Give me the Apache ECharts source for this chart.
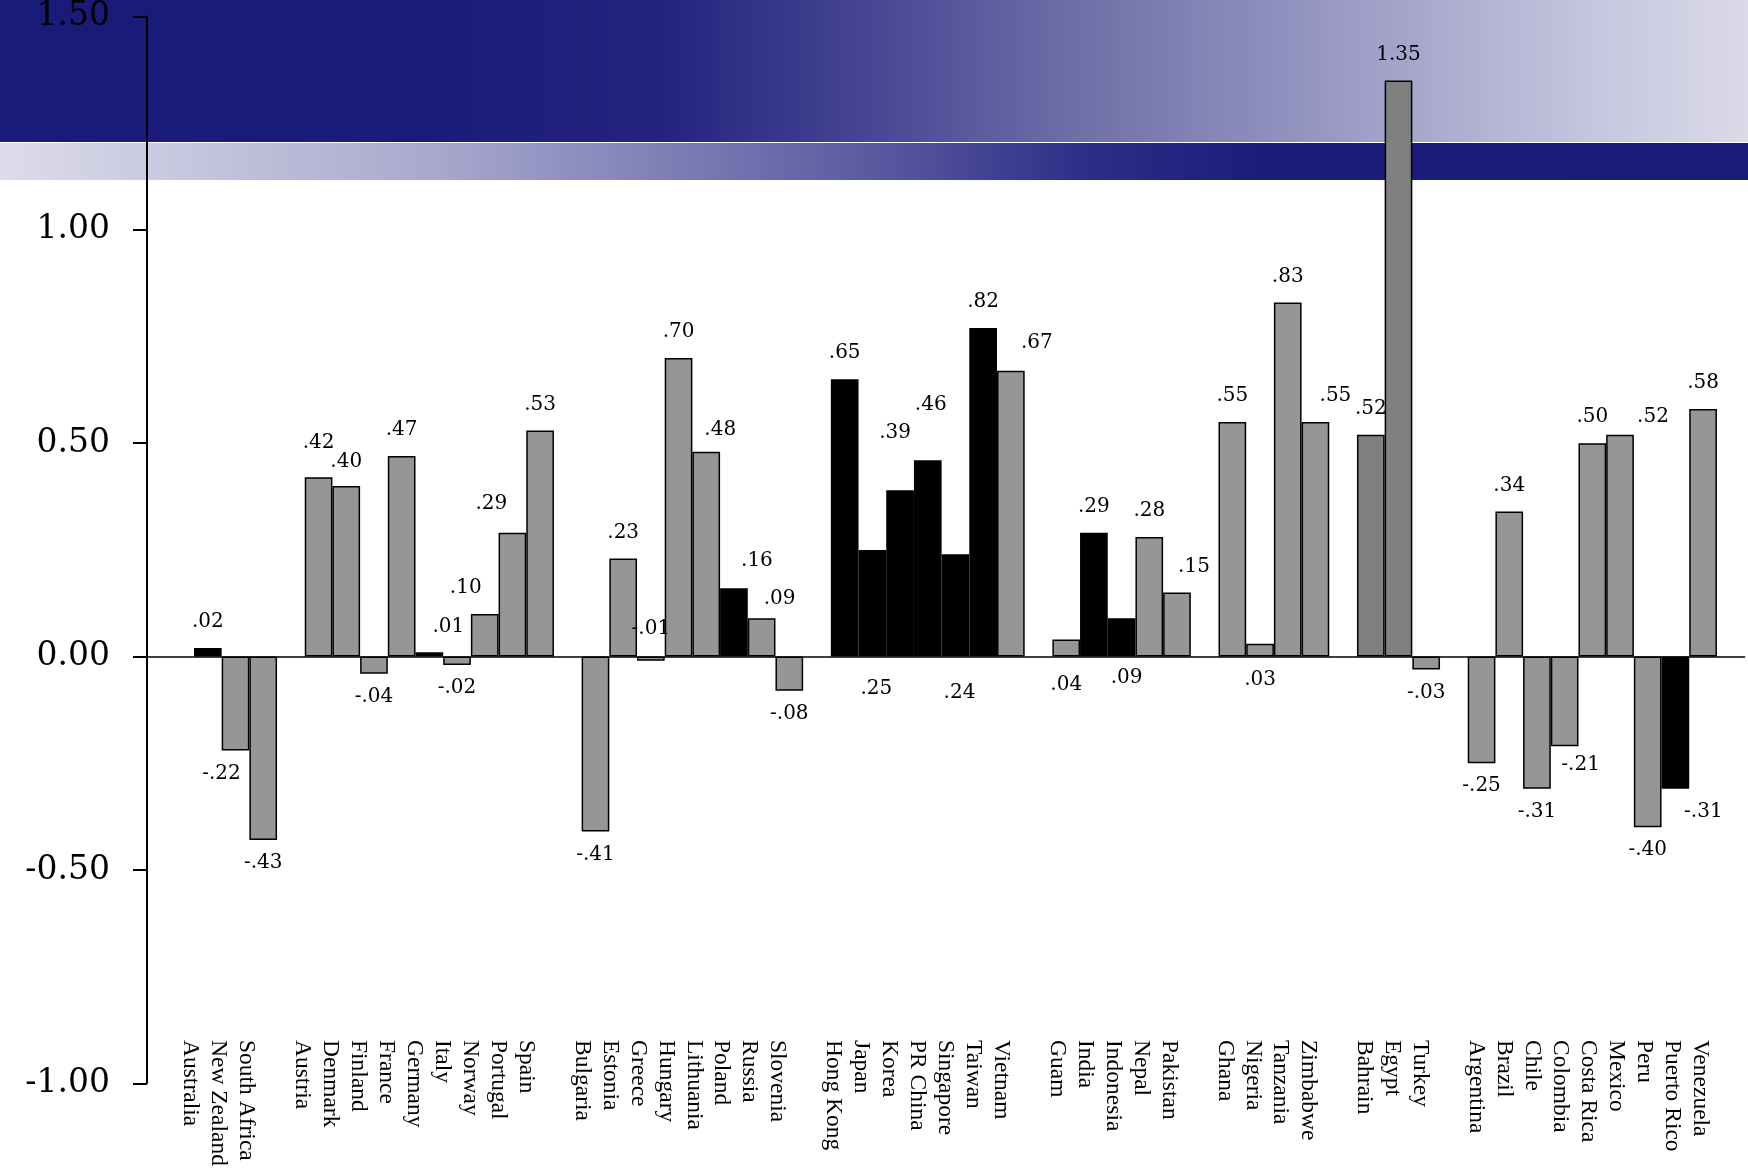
<!DOCTYPE html>
<html><head><meta charset="utf-8">
<script src="https://cdn.jsdelivr.net/npm/echarts@6/dist/echarts.min.js"></script>
<style>
html,body{margin:0;padding:0;background:#fff;}
#chart{width:1748px;height:1173px;
background:
 linear-gradient(to right,#1a1a78 0%,#1a1a78 24%,#24247f 38%,#4a4a96 51%,#7070a9 62%,#9e9ec7 78%,#c5c5df 91%,#dadae8 100%) 0 0/100% 142px no-repeat,
 linear-gradient(to right,#dcdcea 0%,#a8a8ce 25%,#56569e 51%,#2e2e88 62%,#1c1c7a 72%,#1a1a78 100%) 0 143px/100% 37px no-repeat,
 #fff;}
</style></head><body><div id="chart"></div>
<script>
const countries = ['Australia','New Zealand','South Africa',
  'Austria','Denmark','Finland','France','Germany','Italy','Norway','Portugal','Spain',
  'Bulgaria','Estonia','Greece','Hungary','Lithuania','Poland','Russia','Slovenia',
  'Hong Kong','Japan','Korea','PR China','Singapore','Taiwan','Vietnam',
  'Guam','India','Indonesia','Nepal','Pakistan',
  'Ghana','Nigeria','Tanzania','Zimbabwe',
  'Bahrain','Egypt','Turkey',
  'Argentina','Brazil','Chile','Colombia','Costa Rica','Mexico','Peru','Puerto Rico','Venezuela'];
const groupSizes = [3, 9, 8, 7, 5, 4, 3, 9];
// bar heights as drawn
const values = [0.02, -0.22, -0.43,
  0.42, 0.40, -0.04, 0.47, 0.01, -0.02, 0.10, 0.29, 0.53,
  -0.41, 0.23, -0.01, 0.70, 0.48, 0.16, 0.09, -0.08,
  0.65, 0.25, 0.39, 0.46, 0.24, 0.77, 0.67,
  0.04, 0.29, 0.09, 0.28, 0.15,
  0.55, 0.03, 0.83, 0.55,
  0.52, 1.35, -0.03,
  -0.25, 0.34, -0.31, -0.21, 0.50, 0.52, -0.40, -0.31, 0.58];
// value labels as printed
const printedLabels = ['.02', '-.22', '-.43',
  '.42', '.40', '-.04', '.47', '.01', '-.02', '.10', '.29', '.53',
  '-.41', '.23', '-.01', '.70', '.48', '.16', '.09', '-.08',
  '.65', '.25', '.39', '.46', '.24', '.82', '.67',
  '.04', '.29', '.09', '.28', '.15',
  '.55', '.03', '.83', '.55',
  '.52', '1.35', '-.03',
  '-.25', '.34', '-.31', '-.21', '.50', '.52', '-.40', '-.31', '.58'];
// k = black, g = grey, d = dark grey
const barShade = ['k','g','g',
  'g','g','g','g','k','g','g','g','g',
  'g','g','g','g','g','k','g','g',
  'k','k','k','k','k','k','g',
  'g','k','k','g','g',
  'g','g','g','g',
  'd','d','g',
  'g','g','g','g','g','g','g','k','g'];
const yMin = -1, yMax = 1.5, yStep = 0.5;

// ---- styling ----
const shadeColor = {k: '#000000', g: '#969696', d: '#808080'};
const labelNudge = {
  'New Zealand': {dx: -14},
  'Austria': {dy: -9},
  'Denmark': {dy: 2},
  'Germany': {dx: 19},
  'Norway': {dx: -19},
  'Portugal': {dx: -21, dy: -3},
  'Greece': {pos: 'top', dy: -2},
  'Lithuania': {dx: 14, dy: 4},
  'Poland': {dx: 23, dy: -2},
  'Russia': {dx: 18, dy: 7},
  'Japan': {pos: 'bottom', dx: 4, dy: 9},
  'Korea': {dx: -5, dy: -31},
  'PR China': {dx: 3, dy: -29},
  'Singapore': {pos: 'bottom', dx: 4, dy: 13},
  'Vietnam': {dx: 26, dy: -2},
  'Guam': {pos: 'bottom', dy: 5},
  'Indonesia': {pos: 'bottom', dx: 5, dy: -2},
  'Nigeria': {pos: 'bottom'},
  'Pakistan': {dx: 17},
  'Zimbabwe': {dx: 20},
  'Colombia': {dx: 16, dy: -4},
  'Mexico': {dx: 33, dy: 8},
  'Puerto Rico': {dx: 28}
};

const SLOT = 27.69, LSLOT = 27.95;
const mainSlots = ['', ''], labelSlots = [], barData = ['-', '-'];
let ci = 0;
groupSizes.forEach((n, gi) => {
  if (gi > 0) { mainSlots.push(''); labelSlots.push(''); barData.push('-'); }
  for (let j = 0; j < n; j++, ci++) {
    const name = countries[ci], v = values[ci];
    const nud = labelNudge[name] || {};
    const pos = nud.pos || (v >= 0 ? 'top' : 'bottom');
    mainSlots.push(name); labelSlots.push(name);
    barData.push({
      value: v,
      itemStyle: {color: shadeColor[barShade[ci]]},
      label: {position: pos, distance: pos === 'top' ? 16 : 13,
               offset: [nud.dx || 0, nud.dy || 0], formatter: printedLabels[ci]}
    });
  }
});
mainSlots.push(''); barData.push('-');

const g0Left = 138.6, g0Width = mainSlots.length * SLOT;
const g1Left = 176.6, g1Width = labelSlots.length * LSLOT;

const chart = echarts.init(document.getElementById('chart'), null, {renderer: 'canvas'});
chart.setOption({
  backgroundColor: 'transparent',
  animation: false,
  grid: [
    {left: g0Left, width: g0Width, top: 15, bottom: 89.7},
    {left: g1Left, width: g1Width, top: 15, bottom: 135}
  ],
  xAxis: [
    {gridIndex: 0, type: 'category', data: mainSlots,
     axisLine: {show: true, onZero: true, lineStyle: {color: '#000', width: 1.5}},
     axisTick: {show: false}, axisLabel: {show: false}, splitLine: {show: false}},
    {gridIndex: 1, type: 'category', data: labelSlots, position: 'bottom',
     axisLine: {show: false, onZero: false}, axisTick: {show: false}, splitLine: {show: false},
     axisLabel: {interval: 0, rotate: -90, margin: 2, color: '#000',
                 fontFamily: 'Liberation Serif', fontSize: 23.5}}
  ],
  yAxis: [
    {gridIndex: 0, type: 'value', min: yMin, max: yMax, interval: yStep, offset: -8.4,
     axisLine: {show: true, lineStyle: {color: '#000', width: 2}},
     axisTick: {show: true, length: 14, lineStyle: {color: '#000', width: 2}},
     splitLine: {show: false},
     axisLabel: {margin: 37, color: '#000', fontFamily: 'DejaVu Serif', fontSize: 33,
                 formatter: v => v.toFixed(2)}},
    {gridIndex: 1, type: 'value', min: yMin, max: yMax, show: false}
  ],
  series: [{
    type: 'bar', xAxisIndex: 0, yAxisIndex: 0,
    barCategoryGap: '0%',
    data: barData,
    itemStyle: {borderColor: '#000', borderWidth: 1.5},
    label: {show: true, color: '#000', fontFamily: 'DejaVu Serif', fontSize: 20}
  }]
});
</script></body></html>
